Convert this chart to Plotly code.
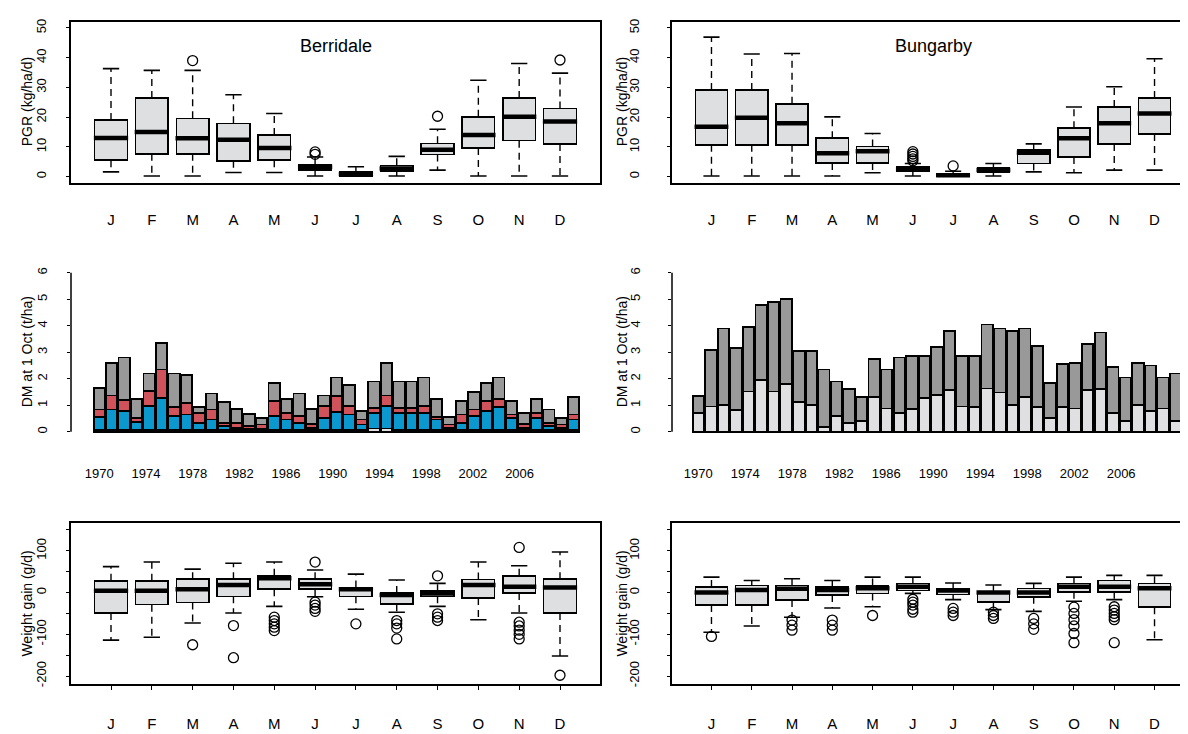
import plotly.graph_objects as go

FONT = "Liberation Sans, Arial, Helvetica, sans-serif"
W, H = 1188, 734
BOXFILL = "#DEDFE1"
BLUE = "#0A98CF"
RED = "#D0525A"
MIDGRAY = "#999999"
LIGHTGRAY = "#E0E0E2"

months = ["J", "F", "M", "A", "M", "J", "J", "A", "S", "O", "N", "D"]
month_pos = list(range(1, 13))
years = list(range(1970, 2009))
label_years = list(range(1970, 2007, 4))

# ---- PGR (kg/ha/d), Berridale ----
ber_pgr_low = [1.6, 0.2, 0.2, 1.4, 1.4, 0.2, 0.2, 0.2, 2.2, 0.2, 0.2, 0.2]
ber_pgr_q1 = [5.5, 7.7, 7.7, 5.3, 5.5, 2.2, 0.3, 1.9, 7.4, 9.6, 12.1, 11.0]
ber_pgr_med = [13.0, 15.0, 12.9, 12.4, 9.6, 3.3, 0.9, 2.7, 9.0, 14.0, 20.1, 18.5]
ber_pgr_q3 = [19.0, 26.4, 19.6, 17.9, 14.0, 4.0, 1.6, 3.8, 11.2, 20.1, 26.4, 22.9]
ber_pgr_high = [36.3, 35.7, 35.7, 27.5, 21.2, 6.6, 3.3, 6.8, 15.9, 32.4, 38.0, 34.8]
ber_pgr_out_m = [3, 6, 6, 9, 12]
ber_pgr_out_v = [39.0, 8.3, 7.5, 20.3, 39.2]

# ---- PGR (kg/ha/d), Bungarby ----
bun_pgr_low = [0.2, 0.2, 0.2, 0.2, 1.3, 0.2, 0.2, 0.2, 1.6, 1.3, 2.2, 2.2]
bun_pgr_q1 = [10.7, 10.7, 10.7, 4.6, 4.6, 1.9, 0.2, 1.4, 4.4, 6.6, 11.0, 14.3]
bun_pgr_med = [16.8, 19.8, 17.9, 7.9, 8.5, 2.5, 0.5, 2.2, 8.0, 12.9, 17.9, 21.2]
bun_pgr_q3 = [29.1, 29.1, 24.5, 12.9, 10.1, 3.3, 1.1, 3.0, 9.0, 16.3, 23.4, 26.4]
bun_pgr_high = [46.9, 41.2, 41.4, 20.1, 14.5, 4.4, 1.8, 4.4, 11.0, 23.4, 30.2, 39.6]
bun_pgr_out_m = [6, 6, 6, 6, 6, 7]
bun_pgr_out_v = [8.4, 7.6, 6.8, 6.0, 5.3, 3.6]

# ---- DM at 1 Oct (t/ha), Berridale: stacked components ----
ber_dm_base = [0.06] * 22 + [0.12, 0.12] + [0.06] * 15
ber_dm_blue = [0.49, 0.78, 0.72, 0.30, 0.90, 1.21, 0.53, 0.59, 0.28, 0.40,
               0.15, 0.09, 0.03, 0.03, 0.53, 0.40, 0.28, 0.09, 0.46, 0.68,
               0.59, 0.21, 0.59, 0.84, 0.65, 0.65, 0.65, 0.40, 0.09, 0.28,
               0.53, 0.72, 0.86, 0.46, 0.09, 0.46, 0.15, 0.09, 0.40]
ber_dm_red = [0.29, 0.53, 0.41, 0.16, 0.59, 1.08, 0.33, 0.44, 0.37, 0.38,
              0.13, 0.19, 0.12, 0.18, 0.58, 0.25, 0.25, 0.15, 0.44, 0.60,
              0.31, 0.19, 0.19, 0.41, 0.19, 0.19, 0.25, 0.09, 0.12, 0.31,
              0.25, 0.39, 0.33, 0.13, 0.15, 0.19, 0.13, 0.12, 0.19]
ber_dm_gray = [0.81, 1.23, 1.61, 0.73, 0.65, 1.00, 1.28, 1.06, 0.21, 0.60,
               0.77, 0.52, 0.47, 0.25, 0.68, 0.54, 0.85, 0.56, 0.41, 0.71,
               0.79, 0.32, 1.00, 1.23, 1.00, 1.00, 1.09, 0.70, 0.28, 0.52,
               0.66, 0.68, 0.80, 0.52, 0.41, 0.54, 0.50, 0.25, 0.65]

# ---- DM at 1 Oct (t/ha), Bungarby ----
bun_dm_light = [0.70, 0.95, 1.00, 0.82, 1.52, 1.95, 1.52, 1.80, 1.13, 1.02,
                0.17, 0.58, 0.32, 0.39, 1.30, 0.88, 0.70, 0.86, 1.27, 1.40,
                1.57, 0.95, 0.94, 1.63, 1.48, 1.02, 1.32, 0.94, 0.52, 0.94,
                0.88, 1.57, 1.60, 0.72, 0.39, 1.02, 0.78, 0.88, 0.39]
bun_dm_dark = [0.65, 2.15, 2.90, 2.33, 2.43, 2.85, 3.38, 3.20, 1.92, 2.03,
               2.18, 1.32, 1.28, 0.91, 1.45, 1.47, 2.10, 1.99, 1.58, 1.80,
               2.23, 1.90, 1.91, 2.42, 2.42, 2.78, 2.58, 2.31, 1.33, 1.61,
               1.72, 1.73, 2.15, 1.73, 1.66, 1.58, 1.72, 1.17, 1.81]

# ---- Weight gain (g/d), Berridale ----
ber_wg_low = [-114, -107, -73, -49, -33, -10, -40, -47, -33, -65, -49, -152]
ber_wg_q1 = [-49, -29, -24, -9, 8, 8, -9, -28, -9, -13, -1, -49]
ber_wg_med = [4, 4, 8, 18, 34, 20, 8, -6, -2, 18, 14, 12]
ber_wg_q3 = [28, 28, 32, 32, 40, 32, 12, -1, 3, 31, 40, 32]
ber_wg_high = [62, 73, 56, 70, 73, 54, 44, 30, 22, 73, 64, 97]
ber_wg_out_m = [3, 4, 4, 5, 5, 5, 5, 5, 6, 6, 6, 6, 6, 7, 8, 8, 8, 8,
                9, 9, 9, 9, 11, 11, 11, 11, 11, 11, 12]
ber_wg_out_v = [-125, -79, -156, -59, -67, -75, -83, -91, 73, -23, -30, -38, -45,
                -75, -67, -75, -85, -111, 40, -51, -59, -67,
                108, -71, -80, -90, -100, -111, -198]

# ---- Weight gain (g/d), Bungarby ----
bun_wg_low = [-95, -80, -59, -37, -34, -2, -17, -41, -45, -21, -17, -113]
bun_wg_q1 = [-30, -30, -18, -6, -2, 5, -5, -22, -10, 2, 2, -35]
bun_wg_med = [0, 6, 9, 6, 10, 14, 5, 0, 0, 14, 14, 10]
bun_wg_q3 = [13, 17, 17, 13, 17, 22, 9, 2, 10, 22, 29, 22]
bun_wg_high = [37, 29, 33, 29, 37, 37, 23, 18, 22, 37, 41, 41]
bun_wg_out_m = [1, 3, 3, 3, 4, 4, 4, 5, 6, 6, 6, 6, 6, 7, 7, 7, 8, 8, 8,
                9, 9, 9, 10, 10, 10, 10, 10, 10, 11, 11, 11, 11, 11, 11]
bun_wg_out_v = [-105, -66, -78, -90, -66, -78, -90, -55, -16, -23, -30, -40, -47,
                -38, -47, -55, -47, -55, -62, -62, -75, -88,
                -35, -50, -65, -80, -98, -120, -34, -42, -50, -58, -65, -120]

# ---- layout geometry (pixels) ----
panels = {
    1: dict(x=(63, 592), y=(11, 173)),
    2: dict(x=(664, 1186), y=(11, 173)),
    3: dict(x=(63, 592), y=(257.6, 430.6)),
    4: dict(x=(664, 1186), y=(257.6, 430.6)),
    5: dict(x=(63, 592), y=(516, 679)),
    6: dict(x=(664, 1186), y=(516, 679)),
}
LABEL_STRETCH = 0.935  # year labels are spaced slightly tighter than the bars

fig = go.Figure()


def add_box(n, low, q1, med, q3, high, out_m, out_v):
    xa, ya = f"x{n}", f"y{n}"
    wx, wy, cx, cy, mx, my = [], [], [], [], [], []
    for i, m in enumerate(month_pos):
        wx += [m, m, None, m, m, None]
        wy += [q3[i], high[i], None, q1[i], low[i], None]
        cx += [m - 0.2, m + 0.2, None, m - 0.2, m + 0.2, None]
        cy += [high[i], high[i], None, low[i], low[i], None]
        mx += [m - 0.42, m + 0.42, None]
        my += [med[i], med[i], None]
    fig.add_trace(go.Scatter(x=wx, y=wy, mode="lines", xaxis=xa, yaxis=ya,
                             line=dict(color="black", width=1.4, dash="7px,5px"),
                             hoverinfo="skip", showlegend=False))
    fig.add_trace(go.Scatter(x=cx, y=cy, mode="lines", xaxis=xa, yaxis=ya,
                             line=dict(color="black", width=1.6),
                             hoverinfo="skip", showlegend=False))
    fig.add_trace(go.Bar(x=month_pos, y=[q3[i] - q1[i] for i in range(12)], base=q1,
                         width=0.8, xaxis=xa, yaxis=ya,
                         marker=dict(color=BOXFILL, line=dict(color="black", width=1.6)),
                         showlegend=False))
    fig.add_trace(go.Scatter(x=mx, y=my, mode="lines", xaxis=xa, yaxis=ya,
                             line=dict(color="black", width=4.5),
                             hoverinfo="skip", showlegend=False))
    fig.add_trace(go.Scatter(x=out_m, y=out_v, mode="markers", xaxis=xa, yaxis=ya,
                             marker=dict(symbol="circle-open", size=10, color="black",
                                         line=dict(width=1.3, color="black")),
                             showlegend=False))


add_box(1, ber_pgr_low, ber_pgr_q1, ber_pgr_med, ber_pgr_q3, ber_pgr_high, ber_pgr_out_m, ber_pgr_out_v)
add_box(2, bun_pgr_low, bun_pgr_q1, bun_pgr_med, bun_pgr_q3, bun_pgr_high, bun_pgr_out_m, bun_pgr_out_v)
add_box(5, ber_wg_low, ber_wg_q1, ber_wg_med, ber_wg_q3, ber_wg_high, ber_wg_out_m, ber_wg_out_v)
add_box(6, bun_wg_low, bun_wg_q1, bun_wg_med, bun_wg_q3, bun_wg_high, bun_wg_out_m, bun_wg_out_v)

for vals, col in [(ber_dm_base, LIGHTGRAY), (ber_dm_blue, BLUE), (ber_dm_red, RED), (ber_dm_gray, MIDGRAY)]:
    fig.add_trace(go.Bar(x=years, y=vals, width=0.9, xaxis="x3", yaxis="y3",
                         marker=dict(color=col, line=dict(color="black", width=1.8)),
                         showlegend=False))
for vals, col in [(bun_dm_light, LIGHTGRAY), (bun_dm_dark, MIDGRAY)]:
    fig.add_trace(go.Bar(x=years, y=vals, width=0.9, xaxis="x4", yaxis="y4",
                         marker=dict(color=col, line=dict(color="black", width=1.8)),
                         showlegend=False))

layout = dict(
    width=W, height=H, margin=dict(l=0, r=0, t=0, b=0),
    paper_bgcolor="white", plot_bgcolor="white",
    barmode="stack", showlegend=False,
    font=dict(family=FONT, color="black", size=13),
)

year_label_pos = [1970 + (y - 1970) * LABEL_STRETCH for y in label_years]

for n, p in panels.items():
    xd = [p["x"][0] / W, p["x"][1] / W]
    yd = [1 - p["y"][1] / H, 1 - p["y"][0] / H]
    left = n % 2 == 1
    xax = dict(domain=xd, anchor=f"y{n}", showgrid=False, zeroline=False,
               tickfont=dict(size=15, family=FONT))
    yax = dict(domain=yd, anchor=f"x{n}", showgrid=False, zeroline=False,
               tickangle=-90, ticks="outside", ticklen=3, tickwidth=1, tickcolor="black",
               tickfont=dict(size=13, family=FONT),
               ticklabelstandoff=15 if left else 23)
    if n in (1, 2, 5, 6):
        xax.update(range=[0.02, 12.98], tickmode="array", tickvals=month_pos, ticktext=months,
                   showline=True, mirror=True, linecolor="black", linewidth=1.5,
                   ticks="outside" if n >= 5 else "", ticklen=4, tickcolor="black",
                   ticklabelstandoff=23 if n <= 2 else 21)
        yax.update(showline=True, mirror=True, linecolor="black", linewidth=1.5)
        if n <= 2:
            yax.update(range=[-2, 52], tickmode="array", tickvals=[0, 10, 20, 30, 40, 50],
                       ticktext=["0", "10", "20", "30", "40", "50"])
        else:
            yax.update(range=[-220, 167], tickmode="array",
                       tickvals=[-200, -150, -100, -50, 0, 50, 100, 150],
                       ticktext=["-200", "", "-100", "", "0", "", "100", ""])
    else:
        xr = [1967.74, 2010.1] if left else [1967.91, 2009.46]
        xax.update(range=xr, tickmode="array", tickvals=year_label_pos,
                   ticktext=[str(y) for y in label_years], showline=False, ticks="",
                   tickfont=dict(size=13, family=FONT), ticklabelstandoff=26)
        yax.update(range=[-0.24, 6.24], tickmode="array", tickvals=list(range(7)),
                   ticktext=[str(v) for v in range(7)], showline=False)
    key = "" if n == 1 else str(n)
    layout[f"xaxis{key}"] = xax
    layout[f"yaxis{key}"] = yax

fig.update_layout(**layout)

# R-style y axis line for the bar charts (from 0 to 6 only)
for n in (3, 4):
    fig.add_shape(type="line", xref=f"x{n} domain", yref=f"y{n}", x0=0, x1=0, y0=0, y1=6,
                  line=dict(color="black", width=1.5))

# y-axis titles
titles = {1: "PGR (kg/ha/d)", 2: "PGR (kg/ha/d)", 3: "DM at 1 Oct (t/ha)",
          4: "DM at 1 Oct (t/ha)", 5: "Weight gain (g/d)", 6: "Weight gain (g/d)"}
for n, t in titles.items():
    p = panels[n]
    xpx = 19 if n % 2 == 1 else 614
    ypx = (p["y"][0] + p["y"][1]) / 2
    fig.add_annotation(text=t, x=xpx / W, y=1 - ypx / H, xref="paper", yref="paper",
                       textangle=-90, showarrow=False, xanchor="center", yanchor="middle",
                       font=dict(size=14, family=FONT, color="black"))

# site names
for n, name in [(1, "Berridale"), (2, "Bungarby")]:
    p = panels[n]
    fig.add_annotation(text=name, x=(p["x"][0] + p["x"][1]) / 2 / W, y=1 - 35 / H,
                       xref="paper", yref="paper", showarrow=False,
                       xanchor="center", yanchor="middle",
                       font=dict(size=18, family=FONT, color="black"))

fig.write_html("out.html")
